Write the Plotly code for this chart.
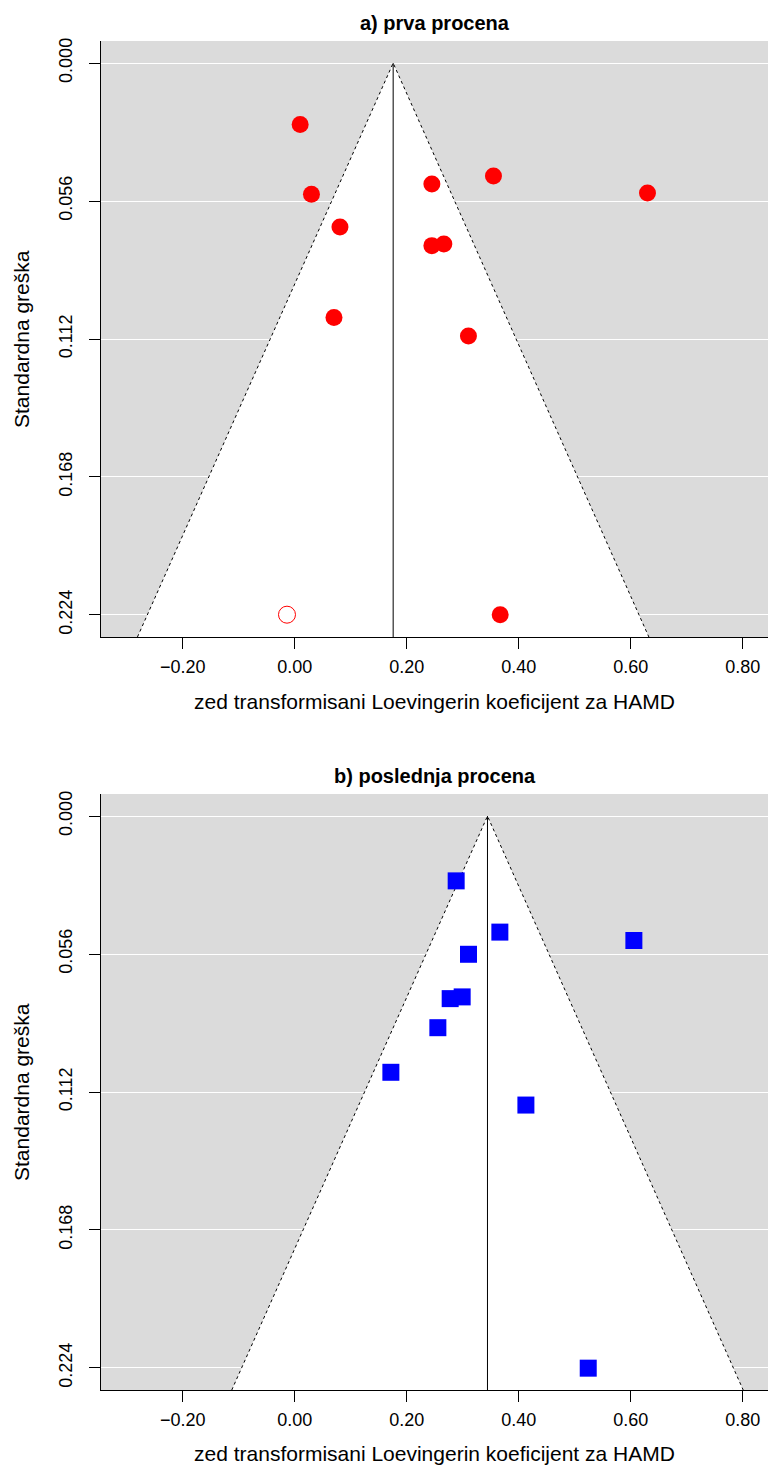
import plotly.graph_objects as go

# ---- data ----
a_x = [0.0096, 0.0298, 0.0807, 0.0700, 0.2448, 0.3548, 0.6298, 0.2448, 0.2662, 0.3101, 0.3668]
a_se = [0.0249, 0.0532, 0.0665, 0.1033, 0.0491, 0.0458, 0.0527, 0.0741, 0.0734, 0.1108, 0.2239]
a_fill_x = [-0.0139]
a_fill_se = [0.2239]
a_center = 0.1757

b_x = [0.2882, 0.3662, 0.6055, 0.3102, 0.2775, 0.2989, 0.2555, 0.1716, 0.4127, 0.5240]
b_se = [0.0263, 0.0471, 0.0505, 0.0561, 0.0741, 0.0734, 0.0859, 0.1040, 0.1173, 0.2241]
b_center = 0.3441

y_tickvals = [0.000, 0.056, 0.112, 0.168, 0.224]
y_ticktext = ["0.000", "0.056", "0.112", "0.168", "0.224"]
x_tickvals = [-0.2, 0.0, 0.2, 0.4, 0.6, 0.8]
x_ticktext = ["\u22120.20", "0.00", "0.20", "0.40", "0.60", "0.80"]

titles = ["a) prva procena", "b) poslednja procena"]
x_title = "zed transformisani Loevingerin koeficijent za HAMD"
y_title = "Standardna greška"

se_max = max(y_tickvals)
y_lo = -0.04 * se_max
y_hi = se_max * 1.04
x_range = [-0.346, 0.845]

W, H = 768, 1466
ML, MR, MT, MB = 101, 0, 41, 76
PH = H - MT - MB
PW = W - ML - MR

def py(p):
    return (H - MB - p) / PH

def px(p):
    return (p - ML) / PW

FONT = "Liberation Sans, Arial, Helvetica, sans-serif"
GRAY = "#DBDBDB"

fig = go.Figure()

panels = [
    dict(xs=a_x, ses=a_se, center=a_center, color="red", symbol="circle", xa="x", ya="y"),
    dict(xs=b_x, ses=b_se, center=b_center, color="blue", symbol="square", xa="x2", ya="y2"),
]

for i, p in enumerate(panels):
    c = p["center"]
    half = 1.96 * y_hi
    # white funnel region
    fig.add_trace(go.Scatter(
        x=[c - half, c, c + half, c - half], y=[y_hi, 0, y_hi, y_hi],
        mode="lines", fill="toself", fillcolor="white",
        line=dict(width=0), hoverinfo="skip", showlegend=False,
        xaxis=p["xa"], yaxis=p["ya"]))
    # dotted funnel edges
    fig.add_trace(go.Scatter(
        x=[c - half, c, c + half], y=[y_hi, 0, y_hi],
        mode="lines", line=dict(color="black", width=1, dash="dot"),
        hoverinfo="skip", showlegend=False, xaxis=p["xa"], yaxis=p["ya"]))
    # vertical center line
    fig.add_trace(go.Scatter(
        x=[c, c], y=[0, y_hi], mode="lines",
        line=dict(color="black", width=1),
        hoverinfo="skip", showlegend=False, xaxis=p["xa"], yaxis=p["ya"]))
    if i == 0:
        fig.add_trace(go.Scatter(
            x=a_fill_x, y=a_fill_se, mode="markers",
            marker=dict(symbol="circle-open", size=17, color="red", line=dict(width=1, color="red")),
            showlegend=False, xaxis=p["xa"], yaxis=p["ya"]))
    fig.add_trace(go.Scatter(
        x=p["xs"], y=p["ses"], mode="markers",
        marker=dict(symbol=p["symbol"], size=17, color=p["color"], line=dict(width=0)),
        showlegend=False, xaxis=p["xa"], yaxis=p["ya"]))

xaxis_common = dict(
    range=x_range, tickvals=x_tickvals, ticktext=x_ticktext,
    showgrid=False, zeroline=False, showline=True, linecolor="black", linewidth=1,
    ticks="outside", ticklen=11, tickcolor="black", tickwidth=1,
    tickfont=dict(family=FONT, size=18, color="black"), ticklabelstandoff=2,
)
yaxis_common = dict(
    range=[y_hi, y_lo], tickvals=y_tickvals, ticktext=y_ticktext,
    showgrid=True, gridcolor="white", gridwidth=1, zeroline=False,
    showline=True, linecolor="black", linewidth=1,
    ticks="outside", ticklen=11, tickcolor="black", tickwidth=1, tickangle=-90,
    tickfont=dict(family=FONT, size=18, color="black"), ticklabelstandoff=10,
)

dom_a = [py(637), 1.0]
dom_b = [0.0, py(794)]

fig.update_layout(
    width=W, height=H,
    margin=dict(l=ML, r=MR, t=MT, b=MB),
    paper_bgcolor="white", plot_bgcolor=GRAY,
    font=dict(family=FONT, color="black"),
    xaxis=dict(domain=[0, 1], anchor="y", **xaxis_common),
    yaxis=dict(domain=dom_a, anchor="x", **yaxis_common),
    xaxis2=dict(domain=[0, 1], anchor="y2", **xaxis_common),
    yaxis2=dict(domain=dom_b, anchor="x2", **yaxis_common),
)

annots = []
for t, yc in zip(titles, [23, 776]):
    annots.append(dict(text="<b>" + t + "</b>", x=0.5, y=py(yc), xref="paper", yref="paper",
                       xanchor="center", yanchor="middle", showarrow=False,
                       font=dict(family=FONT, size=20, color="black")))
for yc in [701, 1453]:
    annots.append(dict(text=x_title, x=0.5, y=py(yc), xref="paper", yref="paper",
                       xanchor="center", yanchor="middle", showarrow=False,
                       font=dict(family=FONT, size=21, color="black")))
for yc in [339, 1092]:
    annots.append(dict(text=y_title, x=px(21), y=py(yc), xref="paper", yref="paper",
                       xanchor="center", yanchor="middle", showarrow=False, textangle=-90,
                       font=dict(family=FONT, size=21, color="black")))
fig.update_layout(annotations=annots)

fig.write_html("out.html")
